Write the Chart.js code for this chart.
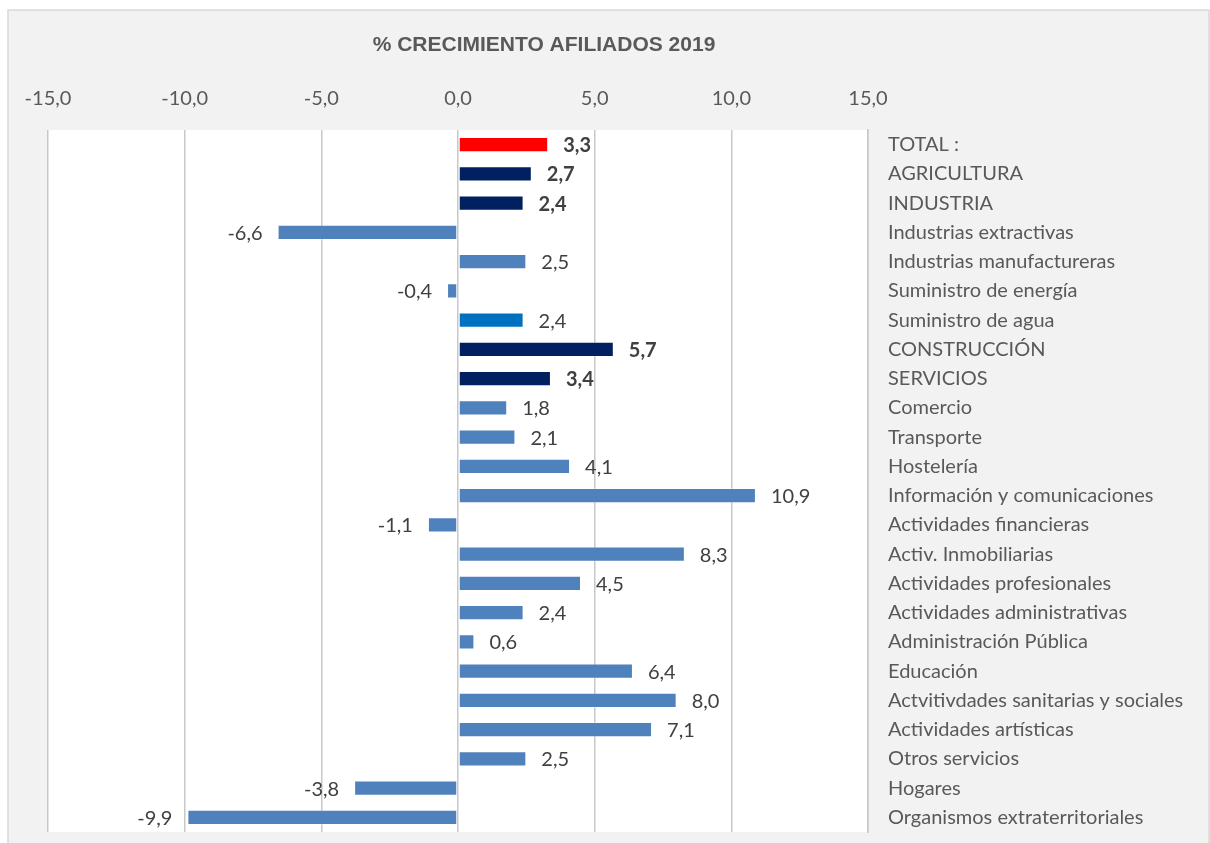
<!DOCTYPE html>
<html>
<head>
<meta charset="utf-8">
<script src="https://cdn.jsdelivr.net/npm/chart.js@4"></script>
<style>
  html, body { margin: 0; padding: 0; background: #ffffff; }
  canvas { display: block; }
</style>
</head>
<body>
<canvas id="afiliadosChart" width="1210" height="843"></canvas>
<script>
// datos del grafico
const categories = [
  "TOTAL :", "AGRICULTURA", "INDUSTRIA", "Industrias extractivas", "Industrias manufactureras",
  "Suministro de energía", "Suministro de agua", "CONSTRUCCIÓN", "SERVICIOS", "Comercio",
  "Transporte", "Hostelería", "Información y comunicaciones", "Actividades financieras",
  "Activ. Inmobiliarias", "Actividades profesionales", "Actividades administrativas",
  "Administración Pública", "Educación", "Actvitivdades sanitarias y sociales",
  "Actividades artísticas", "Otros servicios", "Hogares", "Organismos extraterritoriales",
];
const growth = [3.3, 2.7, 2.4, -6.6, 2.5, -0.4, 2.4, 5.7, 3.4, 1.8, 2.1, 4.1, 10.9, -1.1, 8.3, 4.5, 2.4, 0.6, 6.4, 8.0, 7.1, 2.5, -3.8, -9.9];
const barColors = [
  "#ff0000", "#002060", "#002060", "#4f81bd", "#4f81bd", "#4f81bd", "#0070c0", "#002060", "#002060",
  "#4f81bd", "#4f81bd", "#4f81bd", "#4f81bd", "#4f81bd", "#4f81bd", "#4f81bd", "#4f81bd", "#4f81bd",
  "#4f81bd", "#4f81bd", "#4f81bd", "#4f81bd", "#4f81bd", "#4f81bd",
];
const xTicks = [-15, -10, -5, 0, 5, 10, 15];

const fmt = (v) => v.toFixed(1).replace(".", ",");
const isTotal = (i) => barColors[i] !== "#4f81bd" && barColors[i] !== "#0070c0";

const CHART_FONT = "Lato, 'Open Sans', sans-serif";

const frame = {
  id: "frame",
  beforeDraw(chart) {
    const { ctx, chartArea: a } = chart;
    ctx.save();
    ctx.fillStyle = "#ffffff";
    ctx.fillRect(0, 0, chart.width, chart.height);
    ctx.fillStyle = "#f2f2f2";
    ctx.fillRect(8, 10, chart.width - 8, chart.height - 10);
    ctx.strokeStyle = "#d9d9d9";
    ctx.lineWidth = 1.5;
    ctx.beginPath();
    ctx.moveTo(8, chart.height);
    ctx.lineTo(8, 10);
    ctx.lineTo(chart.width - 1, 10);
    ctx.lineTo(chart.width - 1, chart.height);
    ctx.stroke();
    ctx.fillStyle = "#ffffff";
    ctx.fillRect(a.left, a.top, a.right - a.left, a.bottom - a.top);
    ctx.font = "bold 21px 'Liberation Sans', Arial, sans-serif";
    ctx.fillStyle = "#595959";
    ctx.textAlign = "center";
    ctx.textBaseline = "middle";
    ctx.fillText("% CRECIMIENTO AFILIADOS 2019", 544, 45);
    ctx.restore();
  },
};

const valueLabels = {
  id: "valueLabels",
  afterDatasetsDraw(chart) {
    const { ctx } = chart;
    const meta = chart.getDatasetMeta(0);
    ctx.save();
    ctx.textBaseline = "middle";
    meta.data.forEach((bar, i) => {
      const v = growth[i];
      ctx.font = (isTotal(i) ? "bold " : "") + "20px " + CHART_FONT;
      ctx.fillStyle = "#404040";
      if (v >= 0) {
        ctx.textAlign = "left";
        ctx.fillText(fmt(v), bar.x + 15, bar.y + 1);
      } else {
        ctx.textAlign = "right";
        ctx.fillText(fmt(v), bar.x - 15, bar.y + 1);
      }
    });
    ctx.restore();
  },
};

new Chart(document.getElementById("afiliadosChart"), {
  type: "bar",
  data: {
    labels: categories,
    datasets: [{
      data: growth,
      backgroundColor: barColors,
      borderColor: "rgba(255,255,255,0.35)",
      borderWidth: 1,
      borderSkipped: false,
      categoryPercentage: 1,
      barPercentage: 0.52,
    }],
  },
  options: {
    indexAxis: "y",
    responsive: false,
    animation: false,
    layout: { padding: { top: 0, left: 48, right: 0, bottom: 11 } },
    plugins: { legend: { display: false }, tooltip: { enabled: false }, title: { display: false } },
    scales: {
      x: {
        position: "top",
        min: -15,
        max: 15,
        afterBuildTicks: (scale) => { scale.ticks = xTicks.map((value) => ({ value })); },
        afterFit: (scale) => { scale.height = 130; },
        ticks: {
          color: "#595959",
          font: { family: CHART_FONT, size: 20 },
          padding: 19,
          callback: (v) => fmt(v),
        },
        grid: { color: "#c8c8c8", lineWidth: 1.5, drawTicks: false },
        border: { display: false },
      },
      y: {
        position: "right",
        afterFit: (scale) => {
          scale.width = 342;
          scale.paddingTop = 0;
          scale.paddingBottom = 0;
        },
        ticks: {
          color: "#595959",
          font: { family: CHART_FONT, size: 20 },
          padding: 20,
          crossAlign: "near",
          autoSkip: false,
        },
        grid: { display: false, drawTicks: false },
        border: { display: true, color: "#c8c8c8", width: 1.5 },
      },
    },
  },
  plugins: [frame, valueLabels],
});
</script>
</body>
</html>
